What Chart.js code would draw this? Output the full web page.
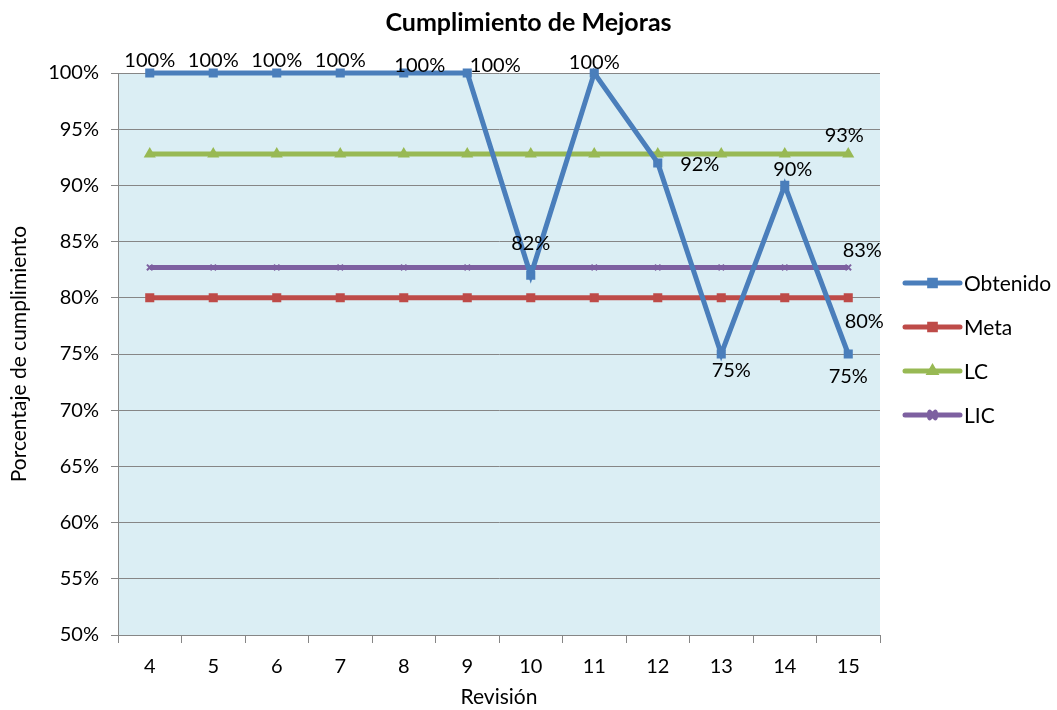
<!DOCTYPE html>
<html>
<head>
<meta charset="utf-8">
<script src="https://cdn.jsdelivr.net/npm/chart.js@4/dist/chart.umd.min.js"></script>
<style>
  html, body { margin: 0; padding: 0; background: #fff; }
  #wrap { width: 1057px; height: 710px; }
</style>
</head>
<body>
<div id="wrap"><canvas id="chart"></canvas></div>
<script>
// datos del gráfico
const revisiones = ['4', '5', '6', '7', '8', '9', '10', '11', '12', '13', '14', '15'];
const obtenido = [100, 100, 100, 100, 100, 100, 82, 100, 92, 75, 90, 75];
const meta = [80, 80, 80, 80, 80, 80, 80, 80, 80, 80, 80, 80];
const lc = [92.8, 92.8, 92.8, 92.8, 92.8, 92.8, 92.8, 92.8, 92.8, 92.8, 92.8, 92.8];
const lic = [82.7, 82.7, 82.7, 82.7, 82.7, 82.7, 82.7, 82.7, 82.7, 82.7, 82.7, 82.7];
const yTicks = [50, 55, 60, 65, 70, 75, 80, 85, 90, 95, 100];

const FONT = 'Lato, "Open Sans", sans-serif';

// posiciones de las etiquetas de datos (dx, dy) por serie; null = sin etiqueta
const labelOffsets = {
  0: [[0,-12],[0,-12],[0,-12],[0,-12],[16,-7],[28,-7],[0,-32],[0,-10],[42,2],[10,17],[8,-16],[0,23]],
  1: [null,null,null,null,null,null,null,null,null,null,null,[16,24]],
  2: [null,null,null,null,null,null,null,null,null,null,null,[-4,-18]],
  3: [null,null,null,null,null,null,null,null,null,null,null,[14,-17]]
};

const plotBg = {
  id: 'plotBg',
  beforeDraw(chart) {
    const { ctx, chartArea: a } = chart;
    ctx.save();
    ctx.fillStyle = '#dbeef4';
    ctx.fillRect(a.left, a.top, a.right - a.left, a.bottom - a.top);
    // título centrado en todo el lienzo
    ctx.fillStyle = '#000';
    ctx.font = 'bold 25px ' + FONT;
    ctx.textAlign = 'center';
    ctx.textBaseline = 'middle';
    ctx.fillText('Cumplimiento de Mejoras', chart.width / 2, 23);
    ctx.restore();
  }
};

const dataLabels = {
  id: 'dataLabels',
  afterDatasetsDraw(chart) {
    const ctx = chart.ctx;
    ctx.save();
    ctx.font = '20px ' + FONT;
    ctx.fillStyle = '#000';
    ctx.textAlign = 'center';
    ctx.textBaseline = 'middle';
    chart.data.datasets.forEach((ds, i) => {
      const offs = labelOffsets[i];
      chart.getDatasetMeta(i).data.forEach((pt, j) => {
        if (!offs || !offs[j]) return;
        ctx.fillText(Math.round(ds.data[j]) + '%', pt.x + offs[j][0], pt.y + offs[j][1]);
      });
    });
    ctx.restore();
  }
};

// leyenda a la derecha con línea y marcador
const sideLegend = {
  id: 'sideLegend',
  afterDraw(chart) {
    const ctx = chart.ctx;
    const x0 = 905, x1 = 960;
    ctx.save();
    chart.data.datasets.forEach((ds, i) => {
      const y = 283 + i * 44;
      ctx.strokeStyle = ds.borderColor;
      ctx.lineWidth = 5;
      ctx.lineCap = 'round';
      ctx.beginPath();
      ctx.moveTo(x0, y);
      ctx.lineTo(x1, y);
      ctx.stroke();
      ctx.fillStyle = ds.borderColor;
      Chart.helpers.drawPoint(ctx, {
        pointStyle: ds.pointStyle,
        radius: ds.pointStyle === 'triangle' ? 3 : 4,
        borderWidth: 1
      }, (x0 + x1) / 2, y);
      ctx.fillStyle = '#000';
      ctx.font = '21px ' + FONT;
      ctx.textAlign = 'left';
      ctx.textBaseline = 'middle';
      ctx.fillText(ds.label, x1 + 4, y + 1);
    });
    ctx.restore();
  }
};

function serie(label, data, color, style, radius) {
  return {
    label: label,
    data: data,
    borderColor: color,
    backgroundColor: color,
    pointBackgroundColor: color,
    pointBorderColor: color,
    borderWidth: 5,
    pointStyle: style,
    pointRadius: radius,
    pointBorderWidth: 2,
    tension: 0,
    clip: false
  };
}

new Chart(document.getElementById('chart'), {
  type: 'line',
  data: {
    labels: revisiones,
    datasets: [
      serie('Obtenido', obtenido, '#4a7ebb', 'rect', 5),
      serie('Meta', meta, '#be4b48', 'rect', 5),
      serie('LC', lc, '#98b954', 'triangle', 5),
      serie('LIC', lic, '#7d60a0', 'crossRot', 4)
    ]
  },
  options: {
    responsive: true,
    maintainAspectRatio: false,
    animation: false,
    layout: { padding: { left: 7, right: 177, top: 73, bottom: 0 } },
    plugins: {
      legend: { display: false },
      tooltip: { enabled: false },
      title: { display: false }
    },
    scales: {
      x: {
        offset: true,
        afterFit(scale) { scale.height = 75; },
        grid: {
          offset: true,
          drawOnChartArea: false,
          drawTicks: true,
          tickLength: 8,
          color: '#868686'
        },
        border: { color: '#868686', width: 1 },
        ticks: {
          color: '#000',
          padding: 12,
          font: { family: FONT, size: 20 }
        },
        title: {
          display: true,
          text: 'Revisión',
          color: '#000',
          font: { family: FONT, size: 21 },
          padding: { top: 10, bottom: 0 }
        }
      },
      y: {
        min: 50,
        max: 100,
        afterFit(scale) { scale.width = 111; },
        afterBuildTicks(scale) { scale.ticks = yTicks.map(v => ({ value: v })); },
        grid: {
          color: '#868686',
          lineWidth: 1,
          tickLength: 7
        },
        border: { color: '#868686', width: 1 },
        ticks: {
          color: '#000',
          padding: 12,
          font: { family: FONT, size: 20 },
          callback: v => v + '%'
        },
        title: {
          display: true,
          text: 'Porcentaje de cumplimiento',
          color: '#000',
          font: { family: FONT, size: 21 },
          padding: { top: 0, bottom: 0 }
        }
      }
    }
  },
  plugins: [plotBg, dataLabels, sideLegend]
});
</script>
</body>
</html>
